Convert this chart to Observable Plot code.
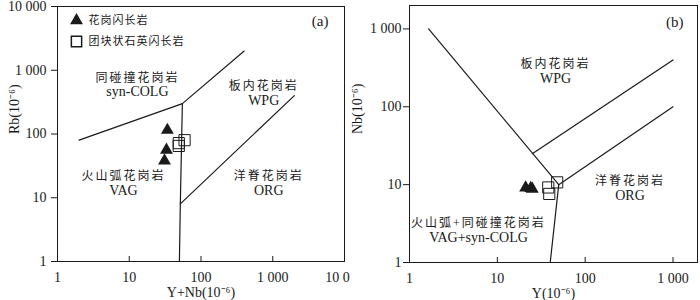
<!DOCTYPE html>
<html><head><meta charset="utf-8">
<script src="https://cdn.jsdelivr.net/npm/d3@7"></script>
<script src="https://cdn.jsdelivr.net/npm/@observablehq/plot@0.6"></script>
<style>
body{margin:0;background:#fff;}
#wrap{display:flex;width:700px;height:300px;overflow:hidden;}
svg text{font-family:"Liberation Serif","Noto Sans CJK SC",serif;}
</style></head><body><div id="wrap"></div>
<script>
// ---------- Panel (a): Rb vs Y+Nb ----------
const aTriYNb = [34, 33, 31];
const aTriRb  = [115, 56, 38];
const aSqYNb  = [49, 59, 49];
const aSqRb   = [72, 80, 65];
const aBoundId = ["b1","b1","b1","b2","b2","b2","b3","b3"];
const aBoundX  = [2, 55, 400, 55, 51.5, 50, 51.5, 2000];
const aBoundY  = [80, 300, 2000, 300, 8, 1, 8, 400];
const aFieldCn = ["同碰撞花岗岩", "板内花岗岩", "火山弧花岗岩", "洋脊花岗岩"];
const aFieldEn = ["syn-COLG", "WPG", "VAG", "ORG"];
const aFieldX  = [13, 748, 8.3, 880];
const aFieldY  = [590, 437, 16.9, 16.9];
const aTicks   = [1, 10, 100, 1000, 10000];

// ---------- Panel (b): Nb vs Y ----------
const bTriY  = [21, 24, 25];
const bTriNb = [9.1, 9.0, 8.8];
const bSqY   = [38, 39, 48];
const bSqNb  = [9.2, 7.6, 10.7];
const bBoundId = ["c1","c1","c1","c2","c2","c3","c3"];
const bBoundX  = [1.65, 50, 40, 25, 1000, 50, 1000];
const bBoundY  = [1000, 10, 1, 25, 400, 10, 100];
const bFieldCn = ["板内花岗岩", "洋脊花岗岩", "火山弧+同碰撞花岗岩"];
const bFieldEn = ["WPG", "ORG", "VAG+syn-COLG"];
const bFieldX  = [46, 324, 6.1];
const bFieldY  = [288, 8.9, 2.6];
const bTicks   = [1, 10, 100, 1000];

const legendNames = ["花岗闪长岩", "团块状石英闪长岩"];

const ink = "#1a1a1a";
const fmt = d => d >= 1000 ? d3.format(",")(d).replace(/,/g, " ") : String(d);
const pts = (xs, ys) => xs.map((x, i) => ({x, y: ys[i]}));
const lines = (ids, xs, ys) => ids.map((id, i) => ({id, x: xs[i], y: ys[i]}));
const fields = (cn, en, xs, ys) => cn.map((c, i) => ({cn: c, en: en[i], x: xs[i], y: ys[i]}));

function panel(o) {
  return Plot.plot({
    width: 350, height: 300,
    marginLeft: o.ml, marginRight: o.mr, marginTop: o.mt, marginBottom: o.mb,
    style: {background: "#fff", color: ink, fontSize: "14px"},
    x: {type: "log", domain: o.xd},
    y: {type: "log", domain: o.yd},
    marks: [
      Plot.frame({stroke: ink, strokeWidth: 1}),
      Plot.axisY({ticks: o.yt, tickFormat: fmt, tickSize: 6, tickPadding: o.tp, label: null, fontSize: 14}),
      Plot.axisX({ticks: o.xt, tickFormat: () => "", tickSize: 5, dy: -5, label: null}),
      Plot.axisX({ticks: o.xt, tickFormat: fmt, tickSize: 0, tickPadding: 9, label: null, fontSize: 14, lineAnchor: "middle", dy: 7}),
      Plot.line(o.lines, {x: "x", y: "y", z: "id", stroke: ink, strokeWidth: 1.2}),
      Plot.dot(o.sq, {x: "x", y: "y", symbol: "square", r: 6.3, stroke: ink, fill: "none", strokeWidth: 1}),
      Plot.dot(o.tri, {x: "x", y: "y", symbol: "triangle", r: 4.8, fill: ink, stroke: "none"}),
      Plot.text(o.fields, {x: "x", y: "y", text: "cn", dy: -7, fontSize: 12, fill: ink}),
      Plot.text(o.fields, {x: "x", y: "y", text: "en", dy: 7, fontSize: 14, fill: ink}),
      Plot.text([o.tag], {frameAnchor: "top-right", lineAnchor: "middle", dx: o.tagDx, dy: o.tagDy, text: d => d, fontSize: 15, fill: ink}),
      Plot.text([o.xl], {frameAnchor: "bottom", lineAnchor: "middle", dy: 31, text: d => d, fontSize: 14, fill: ink}),
      Plot.text([o.yl], {frameAnchor: "left", lineAnchor: "middle", dx: o.ylDx, rotate: -90, text: d => d, fontSize: 14, fill: ink}),
      ...(o.legend ? [
        Plot.dot([0], {frameAnchor: "top-left", dx: 19, dy: 14, symbol: "triangle", r: 4.8, fill: ink}),
        Plot.dot([0], {frameAnchor: "top-left", dx: 19, dy: 35, symbol: "square", r: 5.8, stroke: ink, fill: "none"}),
        Plot.text([legendNames[0]], {frameAnchor: "top-left", lineAnchor: "middle", dx: 31, dy: 14, text: d => d, textAnchor: "start", fontSize: 11, fill: ink, className: "leg"}),
        Plot.text([legendNames[1]], {frameAnchor: "top-left", lineAnchor: "middle", dx: 31, dy: 35, text: d => d, textAnchor: "start", fontSize: 11, fill: ink, className: "leg"})
      ] : [])
    ]
  });
}

const pa = panel({
  ml: 57, mr: 6, mt: 6, mb: 39, tp: 5,
  xd: [1, 10000], yd: [1, 10000], xt: aTicks, yt: aTicks,
  lines: lines(aBoundId, aBoundX, aBoundY),
  sq: pts(aSqYNb, aSqRb), tri: pts(aTriYNb, aTriRb),
  fields: fields(aFieldCn, aFieldEn, aFieldX, aFieldY),
  tag: "(a)", tagDx: -16, tagDy: 15, xl: "Y+Nb(10⁻⁶)", yl: "Rb(10⁻⁶)", ylDx: -43, legend: true
});
const pb = panel({
  ml: 59, mr: 3, mt: 5, mb: 38, tp: 2,
  xd: [1, 1900], yd: [1, 2000], xt: bTicks, yt: bTicks,
  lines: lines(bBoundId, bBoundX, bBoundY),
  sq: pts(bSqY, bSqNb), tri: pts(bTriY, bTriNb),
  fields: fields(bFieldCn, bFieldEn, bFieldX, bFieldY),
  tag: "(b)", tagDx: -14, tagDy: 17, xl: "Y(10⁻⁶)", yl: "Nb(10⁻⁶)", ylDx: -52, legend: false
});
const wrap = document.getElementById("wrap");
wrap.appendChild(pa);
wrap.appendChild(pb);
// widen spacing for CJK labels (legend slightly tighter)
d3.selectAll("svg text").each(function() {
  if (/[\u4e00-\u9fff]/.test(this.textContent)) {
    const inLegend = legendNames.includes(this.textContent);
    d3.select(this).attr("letter-spacing", inLegend ? "1" : "2");
  }
});
</script></body></html>
